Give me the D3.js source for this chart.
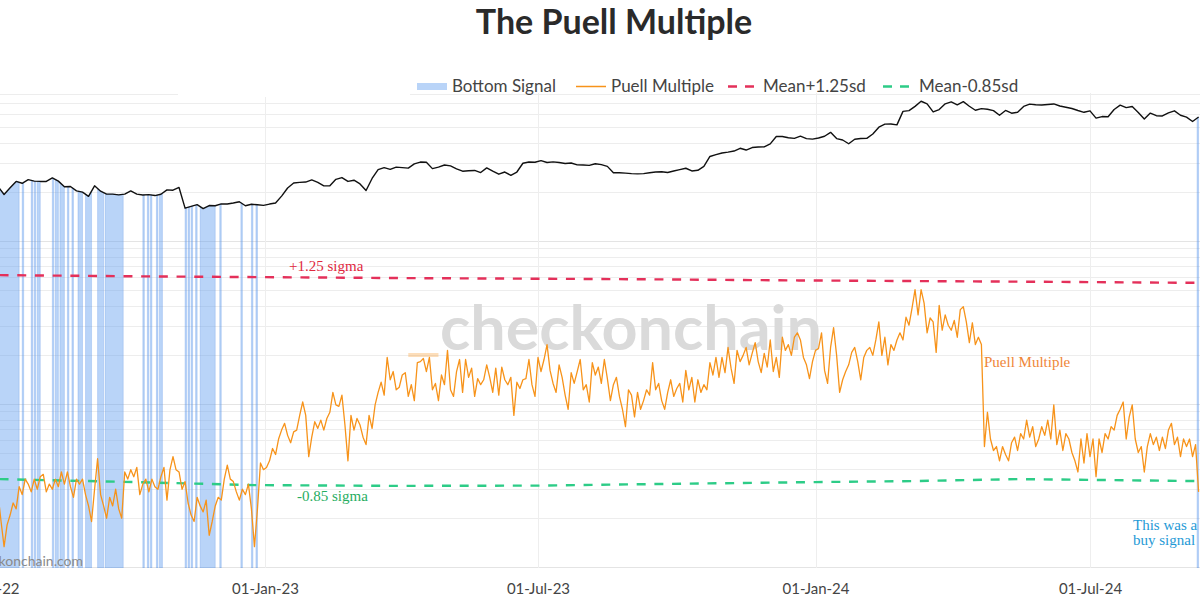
<!DOCTYPE html>
<html><head><meta charset="utf-8">
<script src="https://cdn.jsdelivr.net/npm/d3@7"></script>
<style>body{margin:0;background:#fff;} svg{display:block;}</style>
</head><body>
<svg id="chart" width="1200" height="600"></svg>
<script>
// ---------------- DATA ----------------
const chartTitle = "The Puell Multiple";
const legendLabels = ["Bottom Signal", "Puell Multiple", "Mean+1.25sd", "Mean-0.85sd"];
const xTickDates = ["2022-07-01", "2023-01-01", "2023-07-01", "2024-01-01", "2024-07-01"];

// Puell Multiple, one value every 2 days from 2022-07-08
const puellStart = "2022-07-08";
const puellStepDays = 2;
const puellValues = [
0.52,0.43,0.36,0.42,0.45,0.49,0.47,0.55,0.52,0.58,
0.56,0.53,0.58,0.54,0.59,0.60,0.53,0.56,0.54,0.58,
0.55,0.61,0.56,0.61,0.55,0.51,0.58,0.56,0.58,0.52,
0.48,0.43,0.54,0.67,0.52,0.48,0.44,0.51,0.48,0.54,
0.47,0.44,0.61,0.58,0.62,0.59,0.63,0.52,0.56,0.58,
0.53,0.58,0.55,0.54,0.59,0.63,0.50,0.62,0.68,0.62,
0.61,0.54,0.57,0.49,0.45,0.43,0.51,0.48,0.46,0.50,
0.39,0.43,0.48,0.51,0.50,0.58,0.64,0.58,0.57,0.53,
0.50,0.54,0.52,0.56,0.47,0.36,0.47,0.65,0.62,0.63,
0.66,0.72,0.69,0.77,0.82,0.86,0.79,0.75,0.81,0.82,
0.91,1.00,0.91,0.68,0.78,0.87,0.83,0.88,0.82,0.89,
0.93,1.07,0.98,0.97,1.05,0.85,0.66,0.91,0.82,0.89,
0.85,0.78,0.74,0.91,0.83,0.98,1.07,1.15,1.05,1.37,
1.17,1.24,1.09,1.11,1.21,1.23,1.04,1.13,1.01,1.32,
1.33,1.36,1.24,1.37,1.09,1.14,1.01,1.21,1.13,1.44,
1.09,1.04,1.24,1.35,1.07,1.35,1.19,1.27,1.04,1.18,
1.13,1.17,1.30,1.19,1.07,1.27,1.05,1.28,1.17,1.13,
1.19,0.91,1.15,1.10,1.17,1.18,1.35,1.13,1.04,1.37,
1.24,1.35,1.50,1.25,1.14,1.07,1.30,1.19,1.05,0.95,
1.23,1.14,1.24,1.35,1.09,1.13,1.00,1.32,1.21,1.28,
1.14,1.35,1.18,1.01,1.13,1.19,1.04,0.95,0.84,1.09,
1.05,0.90,1.07,0.95,1.01,1.09,1.05,1.32,1.09,1.14,
1.01,0.95,1.07,1.17,1.04,1.10,1.14,1.00,1.25,1.09,
1.19,1.00,1.17,1.07,1.13,1.09,1.32,1.21,1.37,1.19,
1.37,1.23,1.47,1.27,1.14,1.44,1.33,1.39,1.47,1.30,
1.41,1.52,1.33,1.23,1.41,1.28,1.55,1.24,1.37,1.19,
1.58,1.44,1.50,1.39,1.58,1.63,1.55,1.37,1.30,1.18,
1.33,1.44,1.46,1.63,1.25,1.14,1.47,1.69,1.39,1.07,
1.17,1.24,1.30,1.42,1.47,1.33,1.17,1.37,1.44,1.47,
1.39,1.55,1.76,1.39,1.58,1.30,1.50,1.44,1.55,1.63,
1.55,1.82,1.72,1.94,2.21,1.85,2.21,2.01,1.63,1.81,
1.76,1.42,1.98,1.66,1.85,1.72,1.66,1.78,1.58,1.92,
1.96,1.76,1.52,1.75,1.50,1.58,1.50,0.73,0.93,0.77,
0.71,0.73,0.66,0.73,0.69,0.66,0.75,0.78,0.71,0.80,
0.77,0.88,0.78,0.84,0.73,0.77,0.84,0.79,0.88,0.77,
0.98,0.74,0.82,0.71,0.80,0.77,0.70,0.66,0.61,0.77,
0.65,0.80,0.68,0.77,0.59,0.77,0.70,0.80,0.77,0.84,
0.82,0.91,0.95,1.00,0.77,0.90,0.98,0.77,0.70,0.73,
0.61,0.73,0.80,0.74,0.78,0.71,0.78,0.72,0.82,0.86,
0.74,0.78,0.68,0.77,0.73,0.77,0.68,0.74,0.53
];

// BTC price (USD), one value every 4 days from 2022-07-08
const priceStart = "2022-07-08";
const priceStepDays = 4;
const priceValues = [
21600,19300,21200,23200,22600,23800,23300,23200,23200,24400,23300,21500,21600,20300,19950,18800,
21800,20200,19400,19400,19200,19400,20300,19400,19150,19250,19000,19350,20600,20500,21300,15900,
16300,16700,15800,16500,16450,16900,16850,17100,17400,16450,16800,16700,16550,
16850,17100,18850,21150,22700,22900,23000,23700,22900,21800,21800,23900,24500,23200,
23600,22400,20400,24200,27400,28200,27500,28400,28200,28000,29700,30500,30400,27800,28400,29250,
28900,27700,26800,27000,27100,26300,28100,26800,25700,26500,25300,26500,30000,30500,30400,
31150,30300,30600,30300,29900,30100,29300,29250,29100,29800,29400,28700,26200,26200,26100,
25900,25800,25900,26200,26500,26600,26300,26900,27400,27950,26900,27150,28700,33000,33900,34650,
35100,35650,37050,36150,37450,37700,37800,39450,43800,43750,43000,42650,43950,42500,42150,
42850,43900,46400,42500,41650,39500,42100,42550,42600,45300,49900,52100,52200,51550,62400,
63100,67000,72000,69400,61900,64000,69400,71300,68500,71600,67100,63400,64900,64300,63100,
59100,63200,60800,61600,66900,69100,68500,68300,68800,69300,67300,66200,65000,63200,61600,
62900,56700,58000,57900,64100,68200,65800,66800,61400,56000,60900,58700,58500,61100,62900,59100,
57500,54100,57600
];

// Mean + 1.25 sd and Mean - 0.85 sd bands
const upperBandDates  = ["2022-07-09","2022-10-06","2023-03-31","2023-09-06","2023-12-21","2024-05-15","2024-09-12"];
const upperBandValues = [2.45, 2.43, 2.40, 2.38, 2.36, 2.34, 2.32];
const lowerBandDates  = ["2022-07-09","2022-10-06","2022-12-25","2023-03-25","2023-07-01","2023-09-15","2024-01-01","2024-03-06","2024-05-15","2024-07-15","2024-09-12"];
const lowerBandValues = [0.580, 0.568, 0.556, 0.553, 0.554, 0.560, 0.568, 0.572, 0.580, 0.576, 0.572];

// Bottom signal periods (inclusive day ranges)
const signalRanges = [
["2022-07-01","2022-07-21"],["2022-07-24","2022-07-24"],["2022-07-30","2022-07-30"],["2022-08-01","2022-08-01"],
["2022-08-03","2022-08-04"],["2022-08-13","2022-08-13"],["2022-08-15","2022-08-16"],["2022-08-18","2022-08-20"],
["2022-08-23","2022-08-23"],["2022-08-26","2022-08-26"],["2022-08-30","2022-09-01"],["2022-09-04","2022-09-07"],
["2022-09-12","2022-09-15"],["2022-09-17","2022-09-28"],["2022-10-12","2022-10-12"],["2022-10-15","2022-10-15"],
["2022-10-17","2022-10-17"],["2022-10-21","2022-10-21"],["2022-10-23","2022-10-24"],["2022-11-09","2022-11-09"],
["2022-11-11","2022-11-11"],["2022-11-13","2022-11-13"],["2022-11-16","2022-11-16"],["2022-11-19","2022-11-28"],
["2022-12-02","2022-12-02"],["2022-12-16","2022-12-16"],["2022-12-23","2022-12-23"],["2022-12-26","2022-12-26"],
["2024-09-10","2024-09-10"]
];

// ---------------- LAYOUT ----------------
const W = 1200, H = 600;
const plotTop = 93, plotBottom = 568, plotLeft = 0, plotRight = 1200;
const parse = d3.utcParse("%Y-%m-%d");
const svg = d3.select("#chart");
const sans = "Lato, 'Open Sans', sans-serif";
const serif = "'Liberation Serif', 'Times New Roman', serif";

const colors = {
  puell: "#f7931a", price: "#111111", upper: "#e4305a", lower: "#2dcc87",
  signal: "rgba(100,160,240,0.45)", signalEdge: "rgba(90,145,230,0.35)",
  grid: "#ededed", text: "#444444"
};

// x scale (time)
const x = d3.scaleUtc()
  .domain([parse("2023-01-01"), parse("2024-07-01")])
  .range([265, 1090]);

// price log scale
const yPrice = d3.scaleLog().domain([100, 10000]).range([567, 241]);
yPrice.domain([yPrice.invert(plotBottom), yPrice.invert(plotTop)]).range([plotBottom, plotTop]);

// Puell log scale
const yPuell = d3.scaleLog().domain([1, 10]).range([402, 76]);

// build series
const p0 = parse(puellStart);
const puell = puellValues.map((v, i) => ({ date: d3.utcDay.offset(p0, i * puellStepDays), v }));
const q0 = parse(priceStart);
const priceDates = priceValues.map((v, i) => d3.utcDay.offset(q0, i * priceStepDays));
const price = priceValues.map((v, i) => ({ date: priceDates[i], v }));
const priceAt = d3.scaleUtc().domain(priceDates).range(priceValues).clamp(true);
const upper = upperBandDates.map((d, i) => ({ date: parse(d), v: upperBandValues[i] }));
const lower = lowerBandDates.map((d, i) => ({ date: parse(d), v: lowerBandValues[i] }));

// clip
svg.append("defs").append("clipPath").attr("id", "plotclip")
  .append("rect").attr("x", plotLeft).attr("y", plotTop)
  .attr("width", plotRight - plotLeft).attr("height", plotBottom - plotTop);

// gridlines (horizontal from price log axis)
const gridG = svg.append("g");
const pTicks = yPrice.ticks();
gridG.selectAll("line.h").data(pTicks).enter().append("line")
  .attr("x1", plotLeft).attr("x2", plotRight)
  .attr("y1", d => Math.round(yPrice(d)) + 0.5).attr("y2", d => Math.round(yPrice(d)) + 0.5)
  .attr("stroke", d => (Math.log10(d) % 1 === 0) ? "#e4e4e4" : colors.grid)
  .attr("stroke-width", 1);
const xTicks = xTickDates.map(parse);
gridG.selectAll("line.v").data(xTicks).enter().append("line")
  .attr("x1", d => Math.round(x(d)) + 0.5).attr("x2", d => Math.round(x(d)) + 0.5)
  .attr("y1", plotTop).attr("y2", plotBottom)
  .attr("stroke", "#eeeeee").attr("stroke-width", 1);

// white mask behind legend area (as in reference)
svg.append("rect").attr("x", 178).attr("y", 84).attr("width", 232).attr("height", 13).attr("fill", "#fff");

// watermark
svg.append("text").attr("x", 631).attr("y", 350).attr("text-anchor", "middle")
  .attr("font-family", sans).attr("font-weight", 700).attr("font-size", 62)
  .attr("textLength", 382).attr("lengthAdjust", "spacingAndGlyphs")
  .attr("fill", "#dadada").text("checkonchain");

const plot = svg.append("g").attr("clip-path", "url(#plotclip)");

// bottom signal areas
const sigArea = d3.area().x(d => x(d)).y0(plotBottom).y1(d => yPrice(priceAt(d)));
signalRanges.forEach(([s, e]) => {
  const days = d3.utcDay.range(parse(s), d3.utcDay.offset(parse(e), 2));
  plot.append("path").datum(days).attr("d", sigArea)
    .attr("fill", colors.signal).attr("stroke", colors.signalEdge).attr("stroke-width", 0.8);
});

// dashed band lines
const bandLine = d3.line().x(d => x(d.date)).y(d => yPuell(d.v));
plot.append("path").datum(upper).attr("d", bandLine).attr("fill", "none")
  .attr("stroke", colors.upper).attr("stroke-width", 2.4).attr("stroke-dasharray", "9,8.7");
plot.append("path").datum(lower).attr("d", bandLine).attr("fill", "none")
  .attr("stroke", colors.lower).attr("stroke-width", 2.4).attr("stroke-dasharray", "9,8.7");

// price line
plot.append("path").datum(price)
  .attr("d", d3.line().x(d => x(d.date)).y(d => yPrice(d.v)))
  .attr("fill", "none").attr("stroke", colors.price).attr("stroke-width", 1.4).attr("stroke-linejoin", "round");

// puell line
plot.append("path").datum(puell)
  .attr("d", d3.line().x(d => x(d.date)).y(d => yPuell(d.v)))
  .attr("fill", "none").attr("stroke", colors.puell).attr("stroke-width", 1.3).attr("stroke-linejoin", "round");

// faint orange marker near Apr-23
svg.append("rect").attr("x", x(parse("2023-04-06"))).attr("y", 353)
  .attr("width", x(parse("2023-04-26")) - x(parse("2023-04-06"))).attr("height", 4)
  .attr("fill", "rgba(247,147,26,0.3)");

// annotations
const ann = svg.append("g").attr("font-family", serif).attr("font-size", 15);
ann.append("text").attr("x", 289).attr("y", 271).attr("fill", "#e0283f").text("+1.25 sigma");
ann.append("text").attr("x", 297).attr("y", 501).attr("fill", "#27ad5f").text("-0.85 sigma");
ann.append("text").attr("x", 984).attr("y", 367).attr("fill", "#ef8638").text("Puell Multiple");
ann.append("text").attr("x", 1133).attr("y", 530).attr("fill", "#1f9ad6").text("This was a");
ann.append("text").attr("x", 1133).attr("y", 545).attr("fill", "#1f9ad6").text("buy signal");

// site credit
svg.append("text").attr("x", 83).attr("y", 566).attr("text-anchor", "end")
  .attr("font-family", sans).attr("font-size", 14).attr("fill", "#8a8a8a").text("checkonchain.com");

// x axis
const xAxis = d3.axisBottom(x).tickValues(xTicks).tickFormat(d3.utcFormat("%d-%b-%y")).tickSize(0).tickPadding(15);
const axG = svg.append("g").attr("transform", `translate(0,${plotBottom})`).call(xAxis);
axG.select(".domain").remove();
axG.selectAll("text").attr("font-family", sans).attr("font-size", 15).attr("fill", colors.text);

// legend
const lg = svg.append("g").attr("font-family", sans).attr("font-size", 17).attr("fill", colors.text);
lg.append("rect").attr("x", 417).attr("y", 83).attr("width", 30).attr("height", 7).attr("fill", "rgba(100,160,240,0.45)");
lg.append("text").attr("x", 452).attr("y", 92).text(legendLabels[0]);
lg.append("line").attr("x1", 576).attr("x2", 606).attr("y1", 86.5).attr("y2", 86.5)
  .attr("stroke", colors.puell).attr("stroke-width", 1.5);
lg.append("text").attr("x", 611).attr("y", 92).text(legendLabels[1]);
lg.append("line").attr("x1", 728).attr("x2", 754).attr("y1", 86.5).attr("y2", 86.5)
  .attr("stroke", colors.upper).attr("stroke-width", 2.4).attr("stroke-dasharray", "9,8");
lg.append("text").attr("x", 763).attr("y", 92).text(legendLabels[2]);
lg.append("line").attr("x1", 883).attr("x2", 909).attr("y1", 86.5).attr("y2", 86.5)
  .attr("stroke", colors.lower).attr("stroke-width", 2.4).attr("stroke-dasharray", "9,8");
lg.append("text").attr("x", 919).attr("y", 92).text(legendLabels[3]);

// title
svg.append("text").attr("x", 614).attr("y", 34).attr("text-anchor", "middle")
  .attr("font-family", sans).attr("font-weight", 700).attr("font-size", 34)
  .attr("fill", "#2a2a2a").text(chartTitle);
</script>
</body></html>
